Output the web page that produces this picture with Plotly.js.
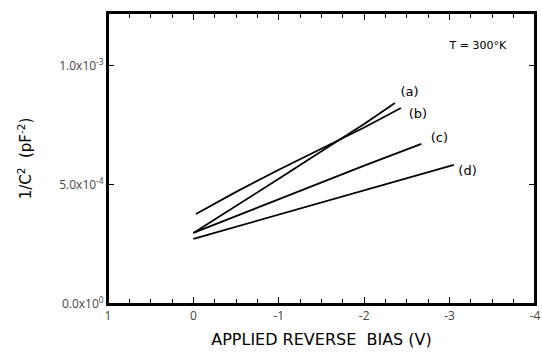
<!DOCTYPE html>
<html>
<head>
<meta charset="utf-8">
<script src="https://cdn.plot.ly/plotly-3.0.1.min.js"></script>
<style>html,body{margin:0;padding:0;background:#fff;}#chart{width:542px;height:356px;}</style>
</head>
<body>
<div id="chart"></div>
<script>
// Data (bias in V, 1/C^2 in pF^-2)
const biasA = [0, -0.5, -1, -1.5, -2, -2.36];
const invC2A = [2.98e-4, 4.10e-4, 5.25e-4, 6.40e-4, 7.55e-4, 8.43e-4];
const biasB = [-0.03, -0.5, -1, -1.5, -2, -2.43];
const invC2B = [3.77e-4, 4.70e-4, 5.63e-4, 6.52e-4, 7.40e-4, 8.22e-4];
const biasC = [0, -1, -2, -2.67];
const invC2C = [2.98e-4, 4.40e-4, 5.80e-4, 6.71e-4];
const biasD = [0, -1, -2, -3.05];
const invC2D = [2.73e-4, 3.75e-4, 4.78e-4, 5.83e-4];
const curveLabels = ['(a)', '(b)', '(c)', '(d)'];
const labelX = [-2.53, -2.63, -2.88, -3.21];
const labelY = [8.85e-4, 7.92e-4, 6.92e-4, 5.53e-4];
const noteText = ['T = 300°K'];
const noteX = [-3.33];
const noteY = [1.082e-3];
const yTickVals = [0, 5e-4, 1e-3];
const yTickText = ['0.0x10<sup>0</sup>', '5.0x10<sup>-4</sup>', '1.0x10<sup>-3</sup>'];
const xTickVals = [1, 0, -1, -2, -3, -4];
const xTickText = ['1', '0', '-1', '-2', '-3', '-4'];

const fontFam = 'DejaVu Sans, sans-serif';
const series = [[biasA, invC2A], [biasB, invC2B], [biasC, invC2C], [biasD, invC2D]];
const traces = series.map((s, i) => ({
  x: s[0], y: s[1], type: 'scatter', mode: 'lines',
  line: {color: '#000', width: 1.8}, name: curveLabels[i], hoverinfo: 'skip'
}));
traces.push({
  x: labelX, y: labelY, text: curveLabels, type: 'scatter', mode: 'text',
  textposition: 'middle center', textfont: {family: fontFam, size: 13, color: '#000'}, hoverinfo: 'skip'
});
traces.push({
  x: noteX, y: noteY, text: noteText, type: 'scatter', mode: 'text',
  textposition: 'middle center', textfont: {family: fontFam, size: 11, color: '#000'}, hoverinfo: 'skip'
});

const layout = {
  width: 542, height: 356,
  margin: {l: 108, r: 7, t: 13, b: 52},
  showlegend: false,
  xaxis: {
    range: [1, -4], showgrid: false, zeroline: false,
    showline: true, linecolor: '#000', linewidth: 2, mirror: 'allticks',
    ticks: 'inside', ticklen: 7, tickwidth: 1, tickcolor: '#000',
    tickmode: 'array', tickvals: xTickVals, ticktext: xTickText,
    minor: {dtick: 0.25, ticks: 'inside', ticklen: 5, tickwidth: 1, tickcolor: '#000', showgrid: false},
    title: {text: 'APPLIED REVERSE  BIAS (V)', font: {family: fontFam, size: 16, color: '#000'}, standoff: 10}
  },
  yaxis: {
    range: [0, 1.22e-3], showgrid: false, zeroline: false,
    showline: true, linecolor: '#000', linewidth: 2, mirror: 'allticks',
    ticks: 'inside', ticklen: 6, tickwidth: 1, tickcolor: '#000',
    tickmode: 'array', tickvals: yTickVals, ticktext: yTickText,
    minor: {tickmode: 'linear', tick0: 0, dtick: 5e-4, ticks: 'inside', ticklen: 6, tickwidth: 1, tickcolor: '#000', showgrid: false},
    title: {text: '1/C<sup>2</sup>  (pF<sup>-2</sup>)', font: {family: fontFam, size: 15, color: '#000'}, standoff: 24}
  },
  shapes: [{type: 'rect', xref: 'paper', yref: 'paper', x0: 0, x1: 1, y0: 0, y1: 1, line: {color: '#000', width: 2}, layer: 'above'}]
};

Plotly.newPlot('chart', traces, layout, {displayModeBar: false});
</script>
</body>
</html>
